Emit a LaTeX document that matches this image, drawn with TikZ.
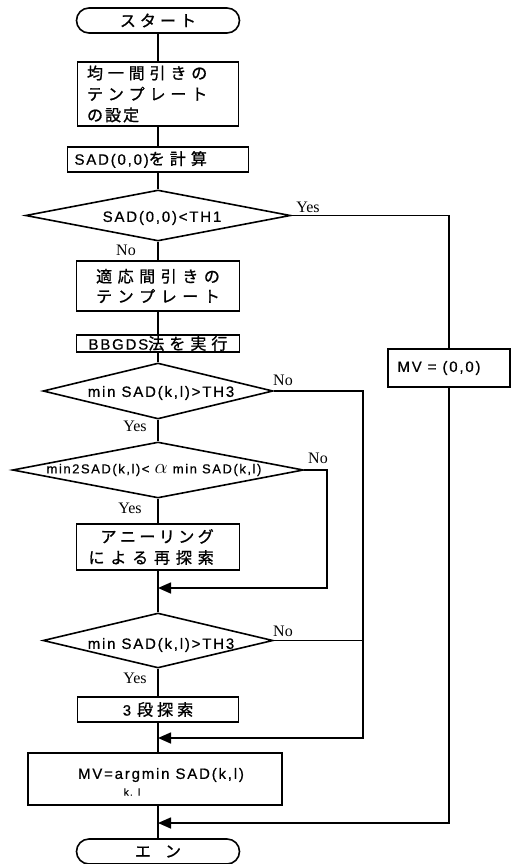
\documentclass[tikz,border=0pt]{standalone}
\usepackage{fontspec}
\newfontfamily\jp{Noto Sans CJK JP}[Scale=1.07,FakeBold=1]
\newfontfamily\la{Liberation Sans}[LetterSpace=12,FakeBold=0.6]
\newfontfamily\se{Liberation Serif}
\usetikzlibrary{shapes.geometric,arrows.meta}
\newcommand\jsp[2]{{\jp\def\jgap{\hspace{#1pt}}\jspout#2\relax}}
\def\jspout#1{\ifx#1\relax\else#1\expandafter\jspgap\fi}
\def\jspgap#1{\ifx#1\relax\else\jgap#1\expandafter\jspgap\fi}
\begin{document}
\begin{tikzpicture}[x=1pt,y=-1pt,line width=1.6pt,
  base/.style={draw,inner sep=0pt,font=\fontsize{15}{21}\selectfont,align=center},
  box/.style={base,rectangle},
  term/.style={base,rectangle,rounded corners=12.5pt,minimum width=163pt,minimum height=25pt},
  dia/.style={draw,diamond,inner sep=0pt},
  txt/.style={inner sep=0pt,font=\fontsize{15}{21}\selectfont},
  yn/.style={inner sep=0pt,font=\se\fontsize{16}{16}\selectfont},
  tip/.style={-{Triangle[length=13pt,width=11pt]}}]
\useasboundingbox (0,0) rectangle (515,864);
\node[term] (start) at (158,20.5) {\jsp{4}{スタート}};
\node[box,minimum width=161pt,minimum height=64pt,text width=142pt,align=left] (b1) at (158,94) {\jsp{4.8}{均一間引きの}\\\jsp{4.8}{テンプレート}\\\jsp{2}{の設定}};
\node[box,minimum width=181pt,minimum height=25pt,text width=167pt,align=left] (b2) at (158,159.5) {{\la SAD(0,0)}\jsp{5}{を計算}};
\node[dia,minimum width=265pt,minimum height=51pt] (d1) at (158,215.5) {};
\node[txt] (t1) at (162,218) {\la SAD(0,0)<TH1};
\node[box,minimum width=163pt,minimum height=50pt,font=\fontsize{15}{20}\selectfont] (b3) at (158,286) {\jsp{5.5}{適応間引きの}\\\jsp{5.5}{テンプレート}};
\node[box,minimum width=163pt,minimum height=17pt] (b4) at (158,343.5) {{\la BBGDS}\jsp{5}{法を実行}};
\node[dia,minimum width=230pt,minimum height=56pt] (d2) at (158,391) {};
\node[txt] (t2) at (161,393) {\la min SAD(k,l)>TH3};
\node[dia,minimum width=291pt,minimum height=56pt] (d3) at (158,470) {};
\node[txt,font=\fontsize{13}{13}\selectfont] (t3) at (154,470) {\la min2SAD(k,l)< {\fontsize{20}{20}\selectfont$\alpha$} min SAD(k,l)};
\node[box,minimum width=163pt,minimum height=46pt,text width=139pt,align=left] (b5) at (158,547) {\hspace*{12pt}\jsp{3.4}{アニーリング}\\\jsp{5.8}{による再探索}};
\node[dia,minimum width=230pt,minimum height=55pt] (d4) at (158,640.5) {};
\node[txt] (t4) at (161,645) {\la min SAD(k,l)>TH3};
\node[box,minimum width=161pt,minimum height=25pt] (b6) at (158,709.5) {{\la 3 }\jsp{4}{段探索}};
\node[box,minimum width=254pt,minimum height=52pt] (b7) at (155,779) {};
\node[txt] (t7) at (161,775) {\la MV=argmin SAD(k,l)};
\node[txt,font=\fontsize{10}{10}\selectfont] (t7s) at (132,792) {\la k. l};
\node[term] (end) at (158,851.5) {\jsp{14}{エン}};
\node[box,minimum width=122pt,minimum height=38pt] (mv) at (449,368) {};
\node[txt] (tmv) at (439,368) {\la MV = (0,0)};
% labels
\node[yn] (y1) at (308,207) {Yes};
\node[yn] (n1) at (126,250) {No};
\node[yn] (n2) at (283,380) {No};
\node[yn] (y2) at (135,426) {Yes};
\node[yn] (n3) at (318,458) {No};
\node[yn] (y3) at (130,508) {Yes};
\node[yn] (n4) at (283,631) {No};
\node[yn] (y4) at (135,678) {Yes};
% coordinates
\coordinate (xr2) at (363,0);
\coordinate (xr3) at (327,0);
\coordinate (m1) at (158,588);
\coordinate (m2) at (158,738);
\coordinate (m3) at (158,823);
% main flow
\draw (start.south) -- (b1.north);
\draw (b1.south) -- (b2.north);
\draw (b2.south) -- (d1.north);
\draw (d1.south) -- (b3.north);
\draw (b3.south) -- (b4.north);
\draw (b4.south) -- (d2.north);
\draw (d2.south) -- (d3.north);
\draw (d3.south) -- (b5.north);
\draw (b5.south) -- (d4.north);
\draw (d4.south) -- (b6.north);
\draw (b6.south) -- (b6.south |- b7.north);
\draw (b6.south |- b7.south) -- (end.north);
% side branches
\draw (d1.east) -| (mv.north);
\draw[tip] (mv.south) |- (m3);
\draw[tip] (d2.east) -| (xr2 |- m2) -- (m2);
\draw (d4.east) -- (d4.east -| xr2);
\draw[tip] (d3.east) -| (xr3 |- m1) -- (m1);
\end{tikzpicture}
\end{document}
